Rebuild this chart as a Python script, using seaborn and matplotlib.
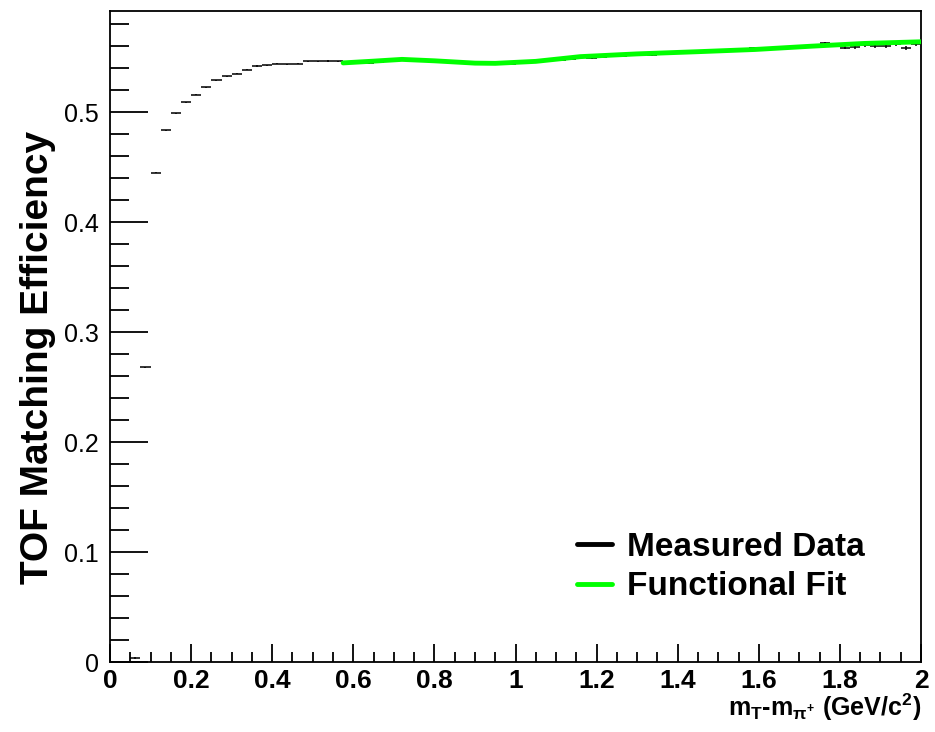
import numpy
from matplotlib import pyplot as plt
from matplotlib.ticker import MultipleLocator
import seaborn
import pandas

# measured efficiency, bins of width 0.025 starting at 0.05
bin_width = 0.025
bin_lows = numpy.arange(0.05, 2.0, bin_width)
efficiency = [
    0.0036, 0.268, 0.445, 0.4834, 0.499, 0.509, 0.516, 0.5227, 0.529, 0.5327,
    0.535, 0.5388, 0.5420, 0.5426, 0.5440, 0.5436, 0.5440, 0.5462, 0.5464, 0.5465,
    0.5463, 0.5445, 0.5447, 0.5446, 0.5452, 0.5466, 0.5475, 0.5478, 0.5476, 0.5468,
    0.5462, 0.5457, 0.5450, 0.5447, 0.5437, 0.5436, 0.5446, 0.5442, 0.5444, 0.5452,
    0.5470, 0.5474, 0.5478, 0.5488, 0.5512, 0.5496, 0.5505, 0.5512, 0.5510, 0.5520,
    0.5525, 0.5522, 0.5538, 0.5540, 0.5535, 0.5548, 0.5544, 0.5556, 0.5560, 0.5555,
    0.5572, 0.5580, 0.5570, 0.5574, 0.5580, 0.5596, 0.5590, 0.5592, 0.5628, 0.5610,
    0.5588, 0.5589, 0.5615, 0.5603, 0.5606, 0.5622, 0.5582, 0.5618,
]
efficiency_err = (
    [0.0005] * 20 + [0.0006] * 20 + [0.0008] * 20 + [0.0012] * 10 + [0.0018] * 8
)

# functional fit
fit_x = [0.575, 0.65, 0.72, 0.8, 0.9, 0.95, 1.05, 1.16, 1.3, 1.45, 1.59, 1.73, 1.86, 2.0]
fit_y = [0.5448, 0.5464, 0.548, 0.5467, 0.5446, 0.5444, 0.5462, 0.5505, 0.553,
         0.555, 0.557, 0.560, 0.5625, 0.564]

seaborn.set_style("ticks")
plt.rcParams["font.family"] = ["Liberation Sans", "DejaVu Sans"]
plt.rcParams["mathtext.fontset"] = "custom"
plt.rcParams["mathtext.rm"] = "Liberation Sans:bold"
plt.rcParams["mathtext.bf"] = "Liberation Sans:bold"
plt.rcParams["mathtext.it"] = "Liberation Sans:bold"
plt.rcParams["text.color"] = "black"
plt.rcParams["axes.labelcolor"] = "black"
plt.rcParams["xtick.color"] = "black"
plt.rcParams["ytick.color"] = "black"
plt.rcParams["axes.edgecolor"] = "black"

fig = plt.figure(figsize=(9.35, 7.32), dpi=100)
ax = fig.add_axes([110 / 935, 70 / 732, 811 / 935, 651 / 732])

data = pandas.DataFrame({"x": bin_lows[: len(efficiency)] + bin_width / 2,
                         "y": efficiency, "err": efficiency_err})

ax.errorbar(data["x"], data["y"], xerr=bin_width / 2, yerr=data["err"],
            fmt="none", ecolor="black", elinewidth=1.1, capsize=0, zorder=2)

fit_df = pandas.DataFrame({"x": fit_x, "y": fit_y})
seaborn.lineplot(data=fit_df, x="x", y="y", ax=ax, color="#00ff00",
                 linewidth=3.5, zorder=3, label="_nolegend_")

# legend handles
ax.plot([], [], color="black", linewidth=3.5, label="Measured Data")
ax.plot([], [], color="#00ff00", linewidth=3.5, label="Functional Fit")
leg = ax.legend(loc="upper left", bbox_to_anchor=(0.56, 0.22), frameon=False,
                handlelength=1.05, handletextpad=0.45, labelspacing=0.25,
                borderaxespad=0, prop={"size": 24, "weight": "bold"})

ax.set_xlim(0, 2)
ax.set_ylim(0, 0.592)

ax.xaxis.set_major_locator(MultipleLocator(0.2))
ax.xaxis.set_minor_locator(MultipleLocator(0.05))
ax.yaxis.set_major_locator(MultipleLocator(0.1))
ax.yaxis.set_minor_locator(MultipleLocator(0.02))
ax.xaxis.set_major_formatter(plt.FuncFormatter(lambda v, p: f"{v:g}"))
ax.yaxis.set_major_formatter(plt.FuncFormatter(lambda v, p: f"{v:g}"))

ax.tick_params(axis="y", which="major", direction="in", length=27, width=1.3,
               labelsize=18, pad=8)
ax.tick_params(axis="y", which="minor", direction="in", length=14, width=1.3)
ax.tick_params(axis="x", which="major", direction="in", length=13, width=1.3,
               labelsize=19, pad=5)
ax.tick_params(axis="x", which="minor", direction="in", length=7, width=1.3)
for lbl in ax.get_xticklabels():
    lbl.set_fontweight("bold")

for sp in ax.spines.values():
    sp.set_visible(True)
    sp.set_linewidth(1.3)

ax.set_ylabel("TOF Matching Efficiency", fontsize=28, fontweight="bold")
ax.yaxis.set_label_coords(-0.066, 0.468)
ax.set_xlabel(r"m$_{\mathrm{T}}$-m$_{\pi^{+}}$ (GeV/c$^{2}$)", fontsize=18,
              fontweight="bold", labelpad=0)
ax.xaxis.set_label_coords(1.0, -0.046)
ax.xaxis.label.set_horizontalalignment("right")
ax.xaxis.label.set_verticalalignment("top")

fig.savefig("out.png", dpi=100)
